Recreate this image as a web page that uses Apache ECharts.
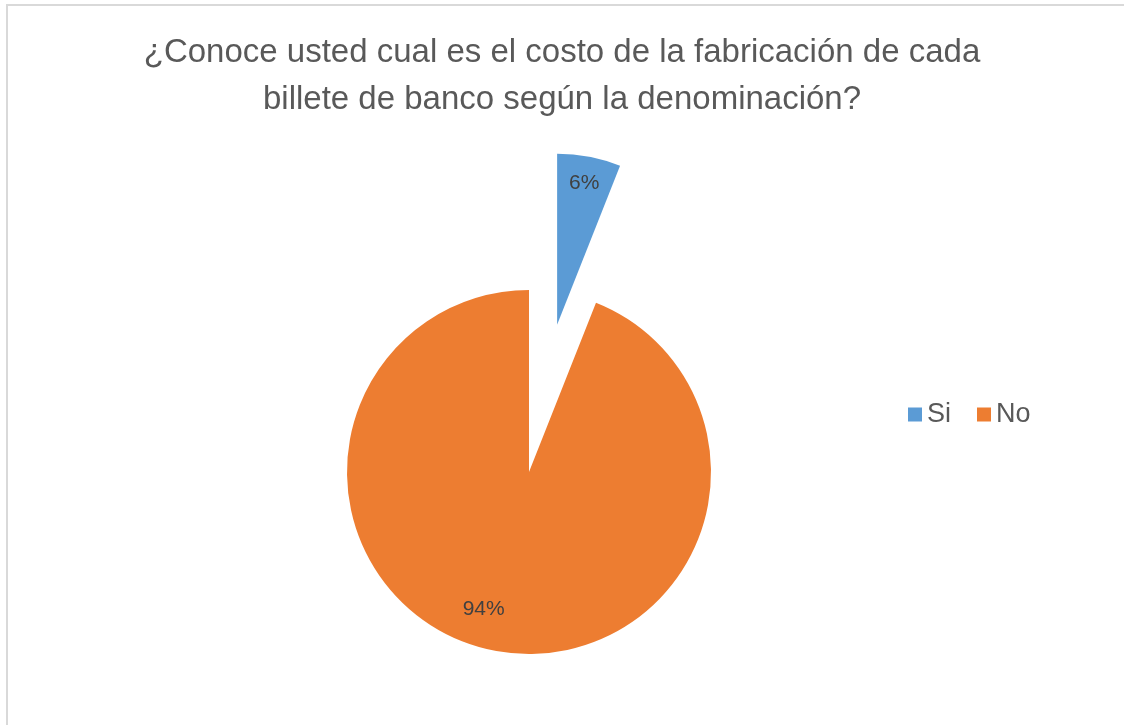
<!DOCTYPE html>
<html>
<head>
<meta charset="utf-8">
<script src="https://cdn.jsdelivr.net/npm/echarts@6/dist/echarts.min.js"></script>
<style>
  html, body { margin: 0; padding: 0; background: #fff; }
  #chart { width: 1124px; height: 725px; }
</style>
</head>
<body>
<div id="chart"></div>
<script>
var categories = ['Si', 'No']
var values = [6, 94]
var colors = ['#5B9BD5', '#ED7D31']
var titleText = '¿Conoce usted cual es el costo de la fabricación de cada\nbillete de banco según la denominación?'

var chart = echarts.init(document.getElementById('chart'))

var center = [529, 472]
var hidden = { color: 'transparent' }

// only one slice visible per series, the other one left transparent
function pieData(showIndex, withLabel, selectIndex, labelOffset) {
  return categories.map(function (name, i) {
    var item = { name: name, value: values[i] }
    if (i === showIndex) {
      item.itemStyle = withLabel ? hidden : { color: colors[i] }
      item.label = { show: withLabel }
      if (labelOffset) item.label.offset = labelOffset
      if (selectIndex === i) item.selected = true
    } else {
      item.itemStyle = hidden
      item.label = { show: false }
    }
    return item
  })
}

var labelStyle = {
  position: 'inside',
  formatter: '{d}%',
  color: '#404040',
  fontSize: 21,
  fontFamily: 'Liberation Sans'
}

chart.setOption({
  backgroundColor: '#fff',
  animation: false,
  title: {
    text: titleText,
    left: 'center',
    top: 24,
    textStyle: {
      color: '#595959',
      fontSize: 33,
      fontWeight: 'normal',
      fontFamily: 'Liberation Sans',
      lineHeight: 47
    }
  },
  legend: {
    data: categories.map(function (name, i) {
      return { name: name, itemStyle: { color: colors[i] } }
    }),
    left: 903,
    top: 396,
    icon: 'rect',
    itemWidth: 14,
    itemHeight: 14,
    itemGap: 26,
    selectedMode: false,
    textStyle: {
      color: '#595959',
      fontSize: 27,
      fontFamily: 'Liberation Sans'
    }
  },
  graphic: [{
    type: 'rect',
    shape: { x: 7, y: 5, width: 1130, height: 730 },
    style: { fill: 'none', stroke: '#d9d9d9', lineWidth: 2 },
    silent: true
  }],
  series: [
    {
      type: 'pie',
      center: center,
      radius: 182,
      silent: true,
      label: { show: false },
      labelLine: { show: false },
      data: pieData(1, false)
    },
    {
      type: 'pie',
      center: center,
      radius: 171,
      silent: true,
      selectedMode: 'single',
      selectedOffset: 150,
      label: { show: false },
      labelLine: { show: false },
      data: pieData(0, false, 0)
    },
    {
      // label ring for "No"
      type: 'pie',
      center: center,
      radius: [104, 182],
      silent: true,
      label: labelStyle,
      labelLine: { show: false },
      data: pieData(1, true, null, [-18, -6])
    },
    {
      // label ring for "Si", moved out like its slice
      type: 'pie',
      center: center,
      radius: [112, 171],
      silent: true,
      selectedMode: 'single',
      selectedOffset: 150,
      label: labelStyle,
      labelLine: { show: false },
      data: pieData(0, true, 0)
    }
  ]
})
</script>
</body>
</html>
